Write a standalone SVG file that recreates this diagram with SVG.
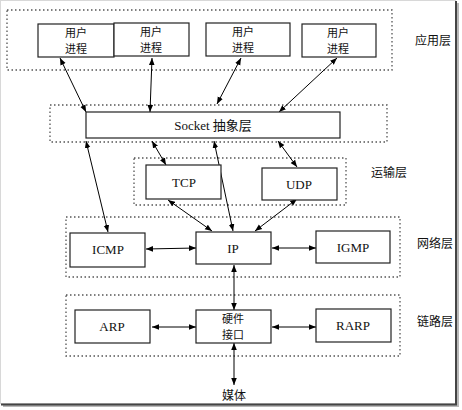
<svg xmlns="http://www.w3.org/2000/svg" width="462" height="410" viewBox="0 0 462 410">
<defs>
<marker id="ah" viewBox="0 0 10 10" refX="10" refY="5" markerWidth="7" markerHeight="7" orient="auto-start-reverse" markerUnits="userSpaceOnUse">
<path d="M0,1 L10,5 L0,9 z" fill="#000"/>
</marker>
</defs>
<style>
.layer{fill:none;stroke:#555;stroke-width:1.3;stroke-dasharray:1.5 2.5}
.box{fill:#fff;stroke:#222;stroke-width:1.2}
.cn{font-family:"Noto Sans CJK SC","Noto Sans",sans-serif;font-size:12px;fill:#111;text-anchor:middle}
.cn2{font-family:"Noto Sans CJK SC","Noto Sans",sans-serif;font-size:11px;fill:#111;text-anchor:middle}
.lt{font-family:"Liberation Serif","Noto Sans CJK SC",serif;font-size:13px;fill:#111;text-anchor:middle}
.conn line{stroke:#000;stroke-width:1;marker-start:url(#ah);marker-end:url(#ah)}
</style>
<rect x="0" y="0" width="462" height="410" fill="#fff"/>
<rect x="3" y="3" width="456" height="404" fill="#888" opacity="0.6"/>
<rect x="0.5" y="0.5" width="455" height="403" fill="#fff" stroke="#d8d8d8"/>
<line x1="456" y1="1" x2="456" y2="405" stroke="#444" stroke-width="2"/>
<line x1="1" y1="404.5" x2="457" y2="404.5" stroke="#444" stroke-width="2"/>

<g id="app-layer">
<rect class="layer" x="7" y="10" width="385" height="60"/>
<text class="cn" x="433" y="45">应用层</text>
</g>
<g id="socket-layer"><rect class="layer" x="50" y="105" width="337" height="37"/></g>
<g id="transport-layer">
<rect class="layer" x="134" y="158" width="212" height="47"/>
<text class="cn" x="389" y="177">运输层</text>
</g>
<g id="network-layer">
<rect class="layer" x="66" y="217" width="334" height="60"/>
<text class="cn" x="435" y="248">网络层</text>
</g>
<g id="link-layer">
<rect class="layer" x="66" y="295" width="334" height="61"/>
<text class="cn" x="435" y="326">链路层</text>
</g>

<g class="conn" id="connectors">
<line x1="60" y1="58" x2="86" y2="112"/>
<line x1="152" y1="58" x2="150" y2="112"/>
<line x1="241" y1="58" x2="217" y2="104"/>
<line x1="337" y1="58" x2="279" y2="112"/>
<line x1="152" y1="141" x2="166" y2="165"/>
<line x1="278" y1="141" x2="297" y2="167"/>
<line x1="214" y1="141" x2="233" y2="231"/>
<line x1="86" y1="141" x2="108" y2="232"/>
<line x1="168" y1="200" x2="212" y2="231"/>
<line x1="297" y1="199" x2="255" y2="231"/>
<line x1="146" y1="249" x2="196" y2="248"/>
<line x1="272" y1="248" x2="316" y2="248"/>
<line x1="234" y1="265" x2="234" y2="310"/>
<line x1="152" y1="327" x2="196" y2="327"/>
<line x1="272" y1="327" x2="316" y2="327"/>
<line x1="234" y1="343" x2="234" y2="385"/>
</g>

<g id="proc1"><rect class="box" x="38" y="24" width="76" height="33"/><text class="cn2" x="76" y="37">用户</text><text class="cn2" x="76" y="53">进程</text></g>
<g id="proc2"><rect class="box" x="114" y="23" width="75" height="33"/><text class="cn2" x="151" y="36">用户</text><text class="cn2" x="151" y="52">进程</text></g>
<g id="proc3"><rect class="box" x="206" y="23" width="84" height="33"/><text class="cn2" x="243" y="36">用户</text><text class="cn2" x="243" y="52">进程</text></g>
<g id="proc4"><rect class="box" x="302" y="24" width="74" height="33"/><text class="cn2" x="338" y="37">用户</text><text class="cn2" x="338" y="53">进程</text></g>

<g id="socket"><rect class="box" x="86" y="112" width="254" height="26"/><text class="lt" x="213" y="130">Socket 抽象层</text></g>
<g id="tcp"><rect class="box" x="146" y="165" width="75" height="34"/><text class="lt" x="184" y="187">TCP</text></g>
<g id="udp"><rect class="box" x="262" y="168" width="75" height="32"/><text class="lt" x="299" y="189">UDP</text></g>
<g id="icmp"><rect class="box" x="70" y="233" width="75" height="34"/><text class="lt" x="108" y="254">ICMP</text></g>
<g id="ip"><rect class="box" x="196" y="232" width="75" height="32"/><text class="lt" x="233" y="253">IP</text></g>
<g id="igmp"><rect class="box" x="316" y="231" width="74" height="32"/><text class="lt" x="353" y="252">IGMP</text></g>
<g id="arp"><rect class="box" x="75" y="310" width="75" height="33"/><text class="lt" x="112" y="331">ARP</text></g>
<g id="hw"><rect class="box" x="196" y="310" width="75" height="33"/><text class="cn2" x="233" y="323">硬件</text><text class="cn2" x="233" y="339">接口</text></g>
<g id="rarp"><rect class="box" x="316" y="309" width="75" height="33"/><text class="lt" x="353" y="330">RARP</text></g>
<g id="media"><text class="cn" x="234" y="400">媒体</text></g>
</svg>
